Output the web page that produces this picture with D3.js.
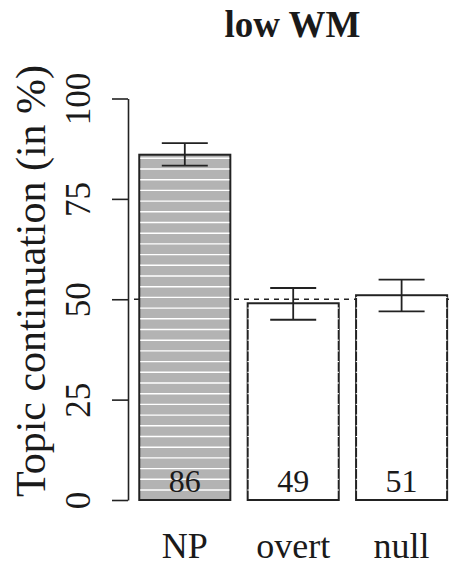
<!DOCTYPE html>
<html>
<head>
<meta charset="utf-8">
<script src="https://cdn.jsdelivr.net/npm/d3@7"></script>
<style>
html,body{margin:0;padding:0;background:#fff;}
svg{display:block;}
text{font-family:"Liberation Serif","Times New Roman",serif;fill:#1a1a1a;}
</style>
</head>
<body>
<svg id="chart" width="456" height="567"></svg>
<script>
const categories = ["NP", "overt", "null"];
const values = [86, 49, 51];
const lowerCI = [83.3, 44.9, 47.0];
const upperCI = [88.9, 52.8, 54.9];
const yTickValues = [0, 25, 50, 75, 100];
const referenceLevel = 50;
const titleText = "low WM";
const yTitle = "Topic continuation (in %)";

const FONT = "Liberation Serif, Times New Roman, serif";
const svg = d3.select("#chart");
const W = 456, H = 567;
svg.append("rect").attr("width", W).attr("height", H).attr("fill", "#fff");

const y = d3.scaleLinear().domain([0, 100]).range([500, 98.5]);
const x = d3.scaleBand().domain(categories).range([130.6, 455.8]).paddingInner(0.16).paddingOuter(0.08);
const fill = d3.scaleOrdinal().domain(categories).range(["#b3b3b3", "#ffffff", "#ffffff"]);

const data = categories.map((c, i) => ({cat: c, v: values[i], lo: lowerCI[i], hi: upperCI[i]}));

// reference dashed line (behind bars)
svg.append("line")
  .attr("x1", 134).attr("x2", 450)
  .attr("y1", y(referenceLevel)).attr("y2", y(referenceLevel))
  .attr("stroke", "#222").attr("stroke-width", 1.6)
  .attr("stroke-dasharray", "5,5");

// bars
const bars = svg.append("g").selectAll("g").data(data).join("g");
bars.append("rect")
  .attr("x", d => x(d.cat))
  .attr("y", d => y(d.v))
  .attr("width", x.bandwidth())
  .attr("height", d => y(0) - y(d.v))
  .attr("fill", d => fill(d.cat))
  .attr("stroke", "#222").attr("stroke-width", 2);

// shading stripes
const spacing = 10.7;
bars.each(function(d, i) {
  const g = d3.select(this);
  const top = y(d.v), bottom = y(0);
  const ys = [];
  for (let yy = bottom - 10; yy > top + 1; yy -= spacing) ys.push(yy);
  const ext = i === 0 ? -1 : 0.3;
  g.selectAll("line.stripe").data(ys).join("line")
    .attr("class", "stripe")
    .attr("x1", x(d.cat) - ext).attr("x2", x(d.cat) + x.bandwidth() + ext)
    .attr("y1", v => v).attr("y2", v => v)
    .attr("stroke", "#fff").attr("stroke-width", i === 0 ? 1.4 : 1);
});

// error bars
const cap = 23;
const eb = svg.append("g").attr("stroke", "#222").attr("stroke-width", 1.8);
data.forEach(d => {
  const cx = x(d.cat) + x.bandwidth() / 2;
  eb.append("line").attr("x1", cx).attr("x2", cx).attr("y1", y(d.lo)).attr("y2", y(d.hi));
  eb.append("line").attr("x1", cx - cap).attr("x2", cx + cap).attr("y1", y(d.lo)).attr("y2", y(d.lo));
  eb.append("line").attr("x1", cx - cap).attr("x2", cx + cap).attr("y1", y(d.hi)).attr("y2", y(d.hi));
});

// value labels inside bars
svg.append("g").selectAll("text").data(data).join("text")
  .attr("x", d => x(d.cat) + x.bandwidth() / 2)
  .attr("y", 492)
  .attr("text-anchor", "middle")
  .attr("font-family", FONT)
  .attr("font-size", 32)
  .text(d => d.v);

// category labels
svg.append("g").selectAll("text").data(categories).join("text")
  .attr("x", d => x(d) + x.bandwidth() / 2)
  .attr("y", 558)
  .attr("text-anchor", "middle")
  .attr("font-family", FONT)
  .attr("font-size", 36)
  .text(d => d);

// y axis
const axis = d3.axisLeft(y).tickValues(yTickValues).tickSize(16).tickSizeOuter(0).tickFormat(d3.format("d"));
const ax = svg.append("g").attr("transform", "translate(128,0)").call(axis);
ax.attr("font-family", FONT).attr("font-size", null);
ax.select(".domain").attr("stroke", "#222").attr("stroke-width", 1.6);
ax.selectAll(".tick line").attr("stroke", "#222").attr("stroke-width", 1.6);
ax.selectAll(".tick text")
  .attr("font-family", FONT)
  .attr("font-size", 35)
  .attr("fill", "#1a1a1a")
  .attr("text-anchor", "middle")
  .attr("x", 0).attr("dy", null).attr("y", 0)
  .attr("transform", "translate(-38,0) rotate(-90)");

// y title
svg.append("text")
  .attr("transform", "translate(45,281) rotate(-90)")
  .attr("text-anchor", "middle")
  .attr("font-family", FONT)
  .attr("font-size", 42)
  .text(yTitle);

// main title
svg.append("text")
  .attr("x", 292.5).attr("y", 37)
  .attr("text-anchor", "middle")
  .attr("font-family", FONT)
  .attr("font-size", 37)
  .attr("font-weight", "bold")
  .text(titleText);
</script>
</body>
</html>
